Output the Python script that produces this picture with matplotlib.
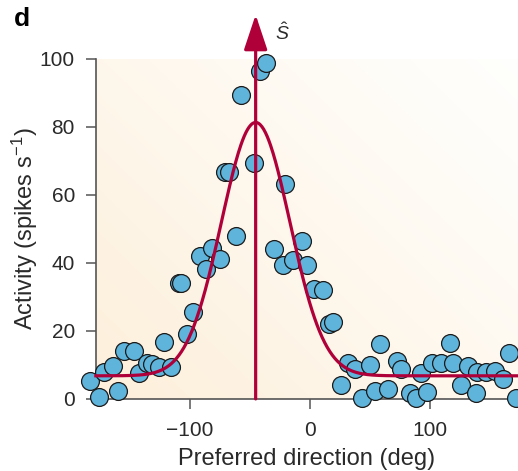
import numpy as np
import matplotlib
matplotlib.use('Agg')
import matplotlib.pyplot as plt

plt.rcParams['font.family'] = ['Liberation Sans', 'DejaVu Sans']
plt.rcParams['mathtext.fontset'] = 'custom'
plt.rcParams['mathtext.rm'] = 'Liberation Sans'
plt.rcParams['mathtext.it'] = 'Liberation Sans:italic'

# neuron preferred directions (deg) and firing rates (spikes/s)
pref_dir = [-182.8, -175.6, -171.4, -163.3, -159.4, -154.2, -146.3, -141.7, -135.6, -131.0,
            -125.3, -121.3, -115.4, -109.0, -107.3, -101.9, -97.5, -91.1, -86.7, -81.7,
            -74.8, -70.8, -67.5, -61.7, -57.3, -46.4, -41.4, -36.1, -20.3, -29.4,
            -22.3, -13.9, -6.4, -1.9, 3.6, 11.1, 15.8, 19.4, 25.6, 32.1,
            37.5, 50.0, 58.8, 43.6, 53.9, 64.8, 72.8, 75.8, 83.3, 88.6,
            97.3, 92.3, 102.1, 109.0, 116.7, 119.0, 125.8, 131.8, 138.3, 139.2,
            146.7, 154.2, 160.8, 166.1, 171.4]
activity = [5.4, 0.5, 7.8, 9.6, 2.2, 14.2, 14.2, 7.6, 10.6, 10.4,
            9.5, 16.6, 9.5, 34.1, 34.0, 19.1, 25.6, 42.1, 38.3, 44.5,
            41.2, 66.6, 66.8, 47.9, 89.3, 69.4, 96.3, 98.8, 63.1, 44.0,
            39.5, 40.8, 46.5, 39.5, 32.4, 31.9, 22.1, 22.5, 4.1, 10.6,
            8.9, 10.1, 16.3, 0.2, 2.3, 2.9, 11.2, 8.9, 1.7, 0.2,
            2.1, 7.6, 10.6, 10.6, 16.5, 10.5, 4.0, 9.7, 1.8, 7.8,
            7.8, 8.1, 5.9, 13.5, 0.4]

# tuning fit
peak_dir = -45
baseline = 6.8
amplitude = 74.5
width = 28.5

x_ticks = [-100, 0, 100]
y_ticks = [0, 20, 40, 60, 80, 100]

red = '#b0003a'
blue = '#5fb4dc'
txt = '#2a2a2a'

fig = plt.figure(figsize=(5.18, 4.71), dpi=100)
ax = fig.add_axes([0.185, 0.153, 0.815, 0.722])

# warm background gradient
gx, gy = np.meshgrid(np.linspace(0, 1, 200), np.linspace(0, 1, 200))
w = np.clip((1 - gx) * 0.55 + (1 - gy) * 0.45, 0, 1) ** 1.2
peach = np.array([0.992, 0.937, 0.855])
white = np.array([1.0, 0.998, 0.99])
img = white[None, None, :] * (1 - w[..., None]) + peach[None, None, :] * w[..., None]
ax.imshow(img, extent=[0, 1, 0, 1], transform=ax.transAxes, origin='lower',
          aspect='auto', zorder=0)

ax.scatter(pref_dir, activity, s=165, facecolor=blue, edgecolor='#1a1a1a',
           linewidth=0.9, zorder=3, clip_on=False)

xs = np.linspace(-178, 174, 500)
ys = baseline + amplitude * np.exp(-(xs - peak_dir) ** 2 / (2 * width ** 2))
ax.plot(xs, ys, color=red, lw=2.3, zorder=4, clip_on=False)

# population vector arrow
ax.annotate('', xy=(peak_dir, 1.13), xycoords=('data', 'axes fraction'),
            xytext=(peak_dir, 0), textcoords=('data', 'axes fraction'),
            arrowprops=dict(arrowstyle='-|>,head_width=0.36,head_length=1.08',
                            mutation_scale=20, color=red, lw=2.3,
                            shrinkA=0, shrinkB=0),
            zorder=5, annotation_clip=False)
ax.text(peak_dir + 22, 1.075, r'$\hat{S}$', transform=ax.get_xaxis_transform(),
        fontsize=14, ha='center', va='center', color=txt)

ax.set_xlim(-178, 173.3)
ax.set_ylim(0, 100)
ax.set_xticks(x_ticks)
ax.set_xticklabels(['\u2212100', '0', '100'])
ax.set_yticks(y_ticks)

for side in ['top', 'right']:
    ax.spines[side].set_visible(False)
for side in ['left', 'bottom']:
    ax.spines[side].set_color('#555555')
    ax.spines[side].set_linewidth(1.2)
    ax.spines[side].set_zorder(2)
ax.tick_params(direction='out', length=7, width=1.1, color='#555555',
               labelsize=15, labelcolor=txt)
ax.tick_params(axis='y', pad=8)
ax.tick_params(axis='x', pad=9)

ax.set_xlabel('Preferred direction (deg)', fontsize=17, color=txt, labelpad=6)
ax.set_ylabel('Activity (spikes s$^{\u22121}$)', fontsize=17, color=txt, labelpad=0)

fig.text(0.027, 0.96, 'd', fontsize=19, fontweight='bold', va='center')

fig.savefig('out.png', dpi=100)
